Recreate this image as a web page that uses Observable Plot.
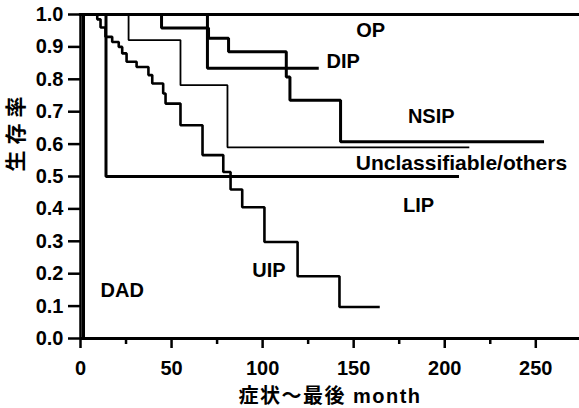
<!DOCTYPE html>
<html>
<head>
<meta charset="utf-8">
<script src="https://cdn.jsdelivr.net/npm/d3@7"></script>
<script src="https://cdn.jsdelivr.net/npm/@observablehq/plot@0.6"></script>
<style>
  html, body { margin: 0; padding: 0; background: #fff; }
  #chart { width: 579px; height: 408px; }
</style>
</head>
<body>
<div id="chart"></div>
<script>
// ---- data ----
const seriesNames = ["OP", "DIP", "NSIP", "Unclassifiable/others", "LIP", "UIP", "DAD"];

const opTime = [0, 274];
const opSurv = [1, 1];

const dipTime = [0, 69.7, 130];
const dipSurv = [1, 0.834, 0.834];

const nsipTime = [0, 44.5, 70.3, 81.3, 113, 115, 142.8, 253.7];
const nsipSurv = [1, 0.958, 0.927, 0.885, 0.807, 0.735, 0.607, 0.607];

const unclTime = [0, 26.4, 54.9, 80.7, 213];
const unclSurv = [1, 0.921, 0.782, 0.59, 0.59];

const lipTime = [0, 14, 207];
const lipSurv = [1, 0.5, 0.5];

const uipTime = [0, 9.2, 11, 13.7, 17.4, 21, 22.9, 25.3, 30.8, 37.3, 39.4, 45.4, 46.7, 54.9, 67, 78.4, 82.4, 88.8, 101, 119.2, 142.2, 163.6];
const uipSurv = [1, 0.985, 0.96, 0.931, 0.915, 0.9, 0.88, 0.854, 0.838, 0.813, 0.787, 0.756, 0.725, 0.658, 0.566, 0.514, 0.46, 0.405, 0.298, 0.192, 0.097, 0.097];

const dadTime = [0, 1.6];
const dadSurv = [1, 0];

const labelText = ["OP", "DIP", "NSIP", "Unclassifiable/others", "LIP", "UIP", "DAD"];
const labelX = [159.3, 144.2, 192.6, 209.2, 185.6, 103.5, 22.9];
const labelY = [0.949, 0.856, 0.684, 0.541, 0.41, 0.211, 0.149];

const xTicks = [0, 50, 100, 150, 200, 250];
const xMinorTicks = [25, 75, 125, 175, 225];
const yTicks = [0, 0.1, 0.2, 0.3, 0.4, 0.5, 0.6, 0.7, 0.8, 0.9, 1.0];

const xTitle = "症状〜最後 month";
const yTitle = "生存率";

// ---- build ----
const times = [opTime, dipTime, nsipTime, unclTime, lipTime, uipTime, dadTime];
const survs = [opSurv, dipSurv, nsipSurv, unclSurv, lipSurv, uipSurv, dadSurv];
const widths = [3, 3, 3, 1.8, 3, 2.6, 3.2];

const curveMarks = seriesNames.map((name, i) => {
  const rows = times[i].map((t, j) => ({series: name, t, s: survs[i][j]}));
  return Plot.line(rows, {x: "t", y: "s", curve: "step-after", stroke: "#000", strokeWidth: widths[i], strokeLinejoin: "miter", strokeLinecap: "square"});
});

const labels = labelText.map((t, i) => ({t, x: labelX[i], y: labelY[i], fs: t.length > 5 ? 21 : 20}));

const FONT = "'Liberation Sans', Arial, 'Noto Sans CJK JP', sans-serif";

const plot = Plot.plot({
  width: 579,
  height: 408,
  marginLeft: 80,
  marginRight: 0,
  marginTop: 14,
  marginBottom: 70,
  style: {fontFamily: FONT, fontSize: "20px", fontWeight: "bold", background: "#fff", color: "#000"},
  x: {domain: [0, 274], label: null},
  y: {domain: [0, 1], label: null},
  marks: [
    ...curveMarks,
    Plot.ruleY([0], {stroke: "#000", strokeWidth: 3}),
    Plot.ruleX([0], {stroke: "#000", strokeWidth: 2.5}),
    Plot.axisY({ticks: yTicks, tickSize: 12, tickPadding: 5, tickFormat: d3.format(".1f"), strokeWidth: 2.5, fontSize: 20, fontWeight: "bold"}),
    Plot.axisX({ticks: xTicks, tickSize: 10, tickPadding: 12, tickFormat: d3.format("d"), strokeWidth: 2.5, fontSize: 20, fontWeight: "bold"}),
    Plot.axisX({ticks: xMinorTicks, tickSize: 6, text: null, strokeWidth: 2.5}),
    Plot.text(labels, {x: "x", y: "y", text: "t", fontSize: "fs", fontWeight: "bold", textAnchor: "middle", lineAnchor: "middle", fill: "#000"}),
    Plot.text([xTitle], {frameAnchor: "bottom", dy: 57.7, fontSize: 20, fontWeight: "bold", lineAnchor: "middle", fill: "#000"}),
    Plot.text([yTitle], {frameAnchor: "left", dx: -64.5, dy: -5, rotate: -90, fontSize: 21, fontWeight: "bold", lineAnchor: "middle", fill: "#000"})
  ]
});

// letter spacing for the CJK titles
d3.select(plot).selectAll("text").each(function() {
  const s = this.textContent;
  if (s === xTitle) this.style.letterSpacing = "1.5px";
  if (s === yTitle) this.style.letterSpacing = "6px";
});

document.getElementById("chart").appendChild(plot);
</script>
</body>
</html>
